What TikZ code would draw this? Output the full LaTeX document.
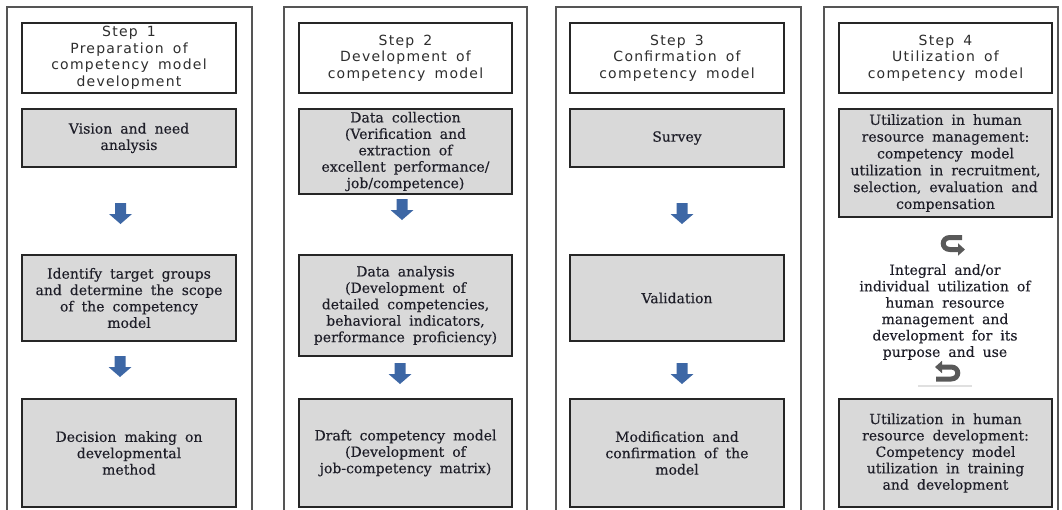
\documentclass[tikz,border=0pt]{standalone}
\usepackage{fontspec}
\newfontfamily\headfont[WordSpace=1.6,LetterSpace=9]{DejaVu Sans}
\newfontfamily\boxfont[WordSpace=1.8,FakeBold=0.25]{DejaVu Serif}
\usetikzlibrary{arrows.meta}

\definecolor{boxgray}{HTML}{D9D9D9}
\definecolor{framegray}{HTML}{555555}
\definecolor{arrowblue}{HTML}{3D67A5}
\definecolor{loopgray}{HTML}{595959}
\definecolor{ink}{HTML}{1E1E28}
\definecolor{headink}{HTML}{2E2E2E}

\tikzset{
  frame/.style={draw=framegray, line width=1.4pt},
  header/.style={draw=black!85, line width=1.1pt, fill=white, align=center,
    font=\headfont\fontsize{14}{16.5}\selectfont, text=headink, inner sep=0pt},
  stage/.style={draw=black!85, line width=1.1pt, fill=boxgray, align=center,
    font=\boxfont\fontsize{14}{16.4}\selectfont, text=ink, inner sep=0pt},
  note/.style={align=center, font=\boxfont\fontsize{14}{16.4}\selectfont,
    text=ink, inner sep=0pt},
  downarrow/.pic={
    \fill[arrowblue] (-5.5,0) -- (5.5,0) -- (5.5,11) -- (11.5,11) -- (0,21)
      -- (-11.5,11) -- (-5.5,11) -- cycle;
  },
  loop/.style={draw=loopgray, line width=5pt, -{Triangle[length=7pt,width=12pt]}}
}

\begin{document}
\begin{tikzpicture}[x=1pt,y=-1pt]
\useasboundingbox (0,0) rectangle (1062,509);
\clip (0,0) rectangle (1062,509);

% outer frames of the four steps
\draw[frame] (7,7) rectangle (252,530);
\draw[frame] (284,7) rectangle (527,530);
\draw[frame] (556,7) rectangle (801,530);
\draw[frame] (824,7) rectangle (1058,530);

% Step 1
\node[header, minimum width=214pt, minimum height=70pt] (h1) at (129,58)
  {Step 1\\Preparation of\\competency model\\development};
\node[stage, minimum width=214pt, minimum height=58pt] (s11) at (129,138)
  {Vision and need\\analysis};
\node[stage, minimum width=214pt, minimum height=86pt] (s12) at (129,298)
  {Identify target groups\\and determine the scope\\of the competency\\model};
\node[stage, minimum width=214pt, minimum height=108pt] (s13) at (129,453)
  {Decision making on\\developmental\\method};
\pic at (120.5,203) {downarrow};
\pic at (120,356) {downarrow};

% Step 2
\node[header, minimum width=213pt, minimum height=70pt] (h2) at (405.5,58)
  {Step 2\\Development of\\competency model};
\node[stage, minimum width=213pt, minimum height=85pt] (s21) at (405.5,151.5)
  {Data collection\\(Verification and\\extraction of\\excellent performance/\\job/competence)};
\node[stage, minimum width=213pt, minimum height=101pt] (s22) at (405.5,305.5)
  {Data analysis\\(Development of\\detailed competencies,\\behavioral indicators,\\performance proficiency)};
\node[stage, minimum width=213pt, minimum height=108pt] (s23) at (405.5,453)
  {Draft competency model\\(Development of\\job-competency matrix)};
\pic at (402,199) {downarrow};
\pic at (400,363) {downarrow};

% Step 3
\node[header, minimum width=214pt, minimum height=70pt] (h3) at (677,58)
  {Step 3\\Confirmation of\\competency model};
\node[stage, minimum width=214pt, minimum height=58pt] (s31) at (677,138)
  {Survey};
\node[stage, minimum width=214pt, minimum height=86pt] (s32) at (677,298)
  {Validation};
\node[stage, minimum width=214pt, minimum height=108pt] (s33) at (677,453)
  {Modification and\\confirmation of the\\model};
\pic at (682,203) {downarrow};
\pic at (682,363) {downarrow};

% Step 4
\node[header, minimum width=213pt, minimum height=70pt] (h4) at (945.5,58)
  {Step 4\\Utilization of\\competency model};
\node[stage, minimum width=213pt, minimum height=108pt, font=\boxfont\fontsize{14}{16.8}\selectfont] (s41) at (945.5,163)
  {Utilization in human\\resource management:\\competency model\\utilization in recruitment,\\selection, evaluation and\\compensation};
\node[note] (n42) at (945,312)
  {Integral and/or\\individual utilization of\\human resource\\management and\\development for its\\purpose and use};
\node[stage, minimum width=213pt, minimum height=108pt] (s43) at (945.5,453)
  {Utilization in human\\resource development:\\Competency model\\utilization in training\\and development};

% cycling arrows around the middle note
\coordinate (la) at (962,237.5);
\coordinate (lb) at (965,249.5);
\draw[loop] (la) -- (950,237.5) .. controls (941,237.5) and (941,249.5) .. (950,249.5) -- (lb);
\coordinate (lc) at (936,379);
\coordinate (ld) at (935,367);
\draw[loop] (lc) -- (951,379) .. controls (960,379) and (960,367) .. (951,367) -- (ld);
\draw[draw=black!12, line width=1.5pt] (918,386) -- (972,386);
\end{tikzpicture}
\end{document}
